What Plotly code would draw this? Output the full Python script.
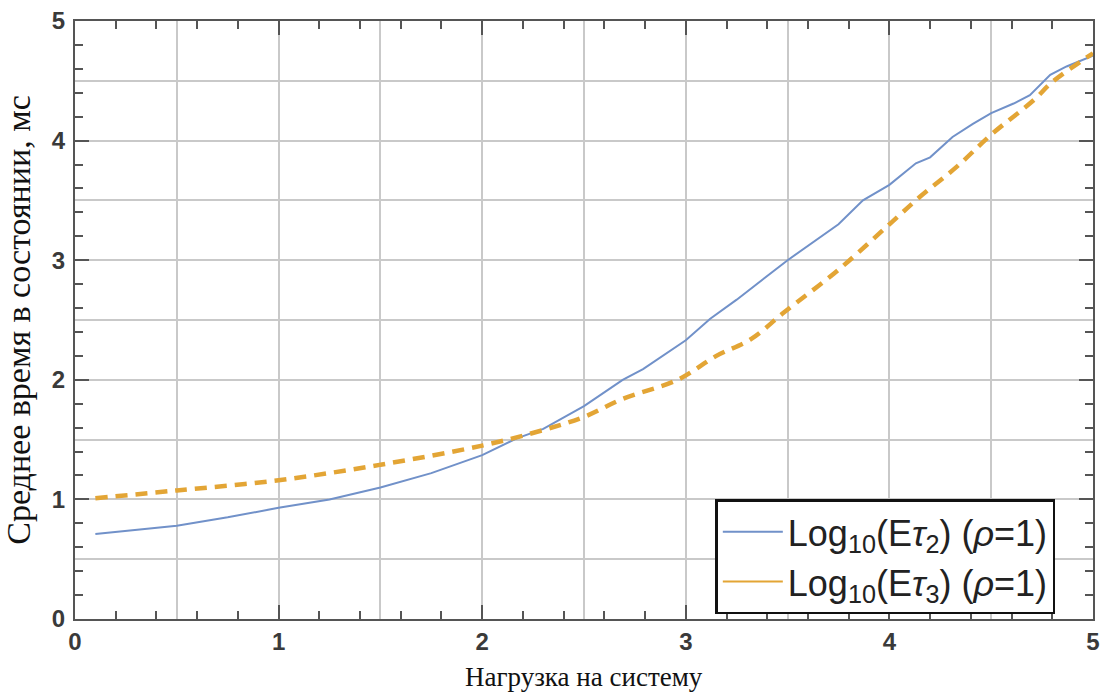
import plotly.graph_objects as go

# Blue series: Log10(E tau2)
x_tau2 = [0.1, 0.3, 0.5, 0.75, 1.0, 1.25, 1.5, 1.75, 2.0, 2.17, 2.3, 2.5, 2.69, 2.79, 2.91, 3.0,
          3.12, 3.25, 3.5, 3.75, 3.87, 4.0, 4.13, 4.2, 4.31, 4.41, 4.5, 4.61, 4.69, 4.79, 4.87, 5.0]
y_tau2 = [0.71, 0.745, 0.78, 0.85, 0.93, 1.0, 1.10, 1.22, 1.37, 1.51, 1.59, 1.78, 2.0, 2.09, 2.23, 2.33,
          2.51, 2.67, 3.0, 3.3, 3.50, 3.63, 3.81, 3.86, 4.03, 4.14, 4.23, 4.31, 4.38, 4.55, 4.62, 4.71]

# Orange series: Log10(E tau3)
x_tau3 = [0.1, 0.5, 1.0, 1.5, 2.0, 2.3, 2.5, 2.69, 2.96, 3.15, 3.32, 3.48, 3.75, 4.0, 4.15, 4.33,
          4.5, 4.71, 4.8, 5.0]
y_tau3 = [1.01, 1.075, 1.16, 1.29, 1.45, 1.58, 1.69, 1.84, 2.0, 2.2, 2.34, 2.56, 2.92, 3.3, 3.53, 3.78,
          4.05, 4.34, 4.49, 4.73]

name_tau2 = "Log<sub>10</sub>(E<i>τ</i><sub>2</sub>) (<i>ρ</i>=1)"
name_tau3 = "Log<sub>10</sub>(E<i>τ</i><sub>3</sub>) (<i>ρ</i>=1)"
x_title = "Нагрузка на систему"
y_title = "Среднее время в состоянии, мс"

BLUE = "#7191C9"
ORANGE = "#E3A535"
FRAME = "#555555"
GRID = "#C9C9C9"

fig = go.Figure()
fig.add_trace(go.Scatter(x=x_tau2, y=y_tau2, mode="lines", showlegend=False,
                         line=dict(color=BLUE, width=2)))
fig.add_trace(go.Scatter(x=x_tau3, y=y_tau3, mode="lines", showlegend=False,
                         line=dict(color=ORANGE, width=4.5, dash="12px,8px", shape="spline")))
# legend proxies (solid samples, as in the reference)
fig.add_trace(go.Scatter(x=[None], y=[None], mode="lines", name=name_tau2,
                         line=dict(color=BLUE, width=2)))
fig.add_trace(go.Scatter(x=[None], y=[None], mode="lines", name=name_tau3,
                         line=dict(color=ORANGE, width=2)))
# invisible trace to activate the overlay axes carrying the 0.2 minor ticks
fig.add_trace(go.Scatter(x=[None], y=[None], xaxis="x2", yaxis="y2", showlegend=False,
                         hoverinfo="skip"))

tickfont = dict(family="Liberation Sans, Arial", size=24, color="#3a3a3a", weight="bold")
titlefont = dict(family="Liberation Serif, Times New Roman", size=27, color="#111111")

common = dict(range=[0, 5], showline=True, linecolor=FRAME, linewidth=2, mirror="allticks",
              ticks="inside", ticklen=14, tickwidth=2, tickcolor=FRAME, zeroline=False,
              showgrid=True, gridcolor=GRID, gridwidth=1.5, automargin=False,
              minor=dict(dtick=0.5, showgrid=True, gridcolor=GRID, gridwidth=1.5, ticks=""))

fig.update_layout(
    width=1109, height=693,
    margin=dict(l=75, r=16, t=21, b=74),
    paper_bgcolor="white", plot_bgcolor="white",
    xaxis=dict(common, dtick=1, tickfont=tickfont, ticklabelstandoff=0),
    yaxis=dict(common, dtick=1, tickfont=tickfont, ticklabelstandoff=3,
               title=dict(text=y_title, standoff=12, font=dict(titlefont, size=34))),
    xaxis2=dict(overlaying="x", anchor="y", range=[0, 5], dtick=0.2, ticks="inside", ticklen=8,
                tickwidth=2, tickcolor=FRAME, showticklabels=False, showgrid=False, zeroline=False,
                showline=False, mirror="allticks"),
    yaxis2=dict(overlaying="y", anchor="x", range=[0, 5], dtick=0.2, ticks="inside", ticklen=8,
                tickwidth=2, tickcolor=FRAME, showticklabels=False, showgrid=False, zeroline=False,
                showline=False, mirror="allticks"),
    legend=dict(x=0.629, y=0.2, xanchor="left", yanchor="top",
                bordercolor="#111111", borderwidth=2.5, bgcolor="white",
                font=dict(family="Liberation Sans, Arial", size=36, color="#222222"),
                itemwidth=60, tracegroupgap=0),
    annotations=[dict(text=x_title, xref="paper", yref="paper", x=0.5, y=-0.097,
                      xanchor="center", yanchor="middle", showarrow=False, font=titlefont)],
)

fig.write_html("out.html")
